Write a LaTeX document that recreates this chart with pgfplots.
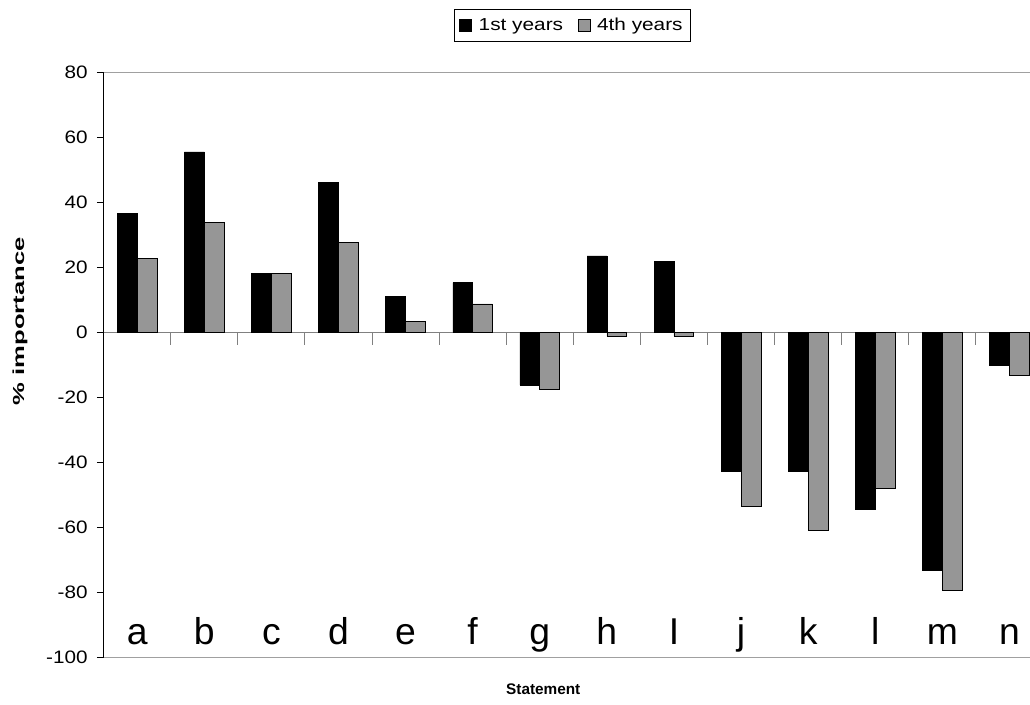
\documentclass[border=0pt]{standalone}
\usepackage{pgfplots}
\pgfplotsset{compat=1.18}
\usepackage{fontspec}
\setmainfont{Liberation Sans}
\newfontfamily\widefont[FakeStretch=1.15]{Liberation Sans}
\newfontfamily\legfont[FakeStretch=1.2]{Liberation Sans}
\newfontfamily\widebold[FakeStretch=1.6]{Liberation Sans Bold}
\definecolor{bargray}{HTML}{969696}
\definecolor{framegray}{HTML}{A0A0A0}
\definecolor{zerogray}{HTML}{808080}
\begin{document}
\begin{tikzpicture}
\path[use as bounding box] (-77.7pt,-34.9pt) rectangle (694.8pt,493.1pt);
\begin{axis}[
  at={(0pt,0pt)}, anchor=south west,
  scale only axis, width=704.55pt, height=438.6pt,
  xmin=-0.5, xmax=13.5, ymin=-100, ymax=80,
  axis x line*=bottom, axis y line*=left,
  x axis line style={draw=framegray, line width=0.75pt, -},
  y axis line style={draw=black, line width=0.75pt, -},
  xtick={0,...,13},
  xticklabels={a,b,c,d,e,f,g,h,I,j,k,l,m,n},
  major x tick style={draw=none},
  xticklabel style={font=\fontsize{28}{30}\selectfont, anchor=base, yshift=14.4pt},
  ytick={-100,-80,...,80},
  tick align=outside,
  major tick length=5pt,
  y tick style={black, line width=0.75pt},
  /pgf/number format/assume math mode=true,
  yticklabel style={font=\widefont\fontsize{13.5}{15}\selectfont, xshift=-3.5pt},
  ybar=0pt, bar width=14.85pt,
  ylabel={\% importance}, xlabel={Statement},
  ylabel style={font=\widebold\fontsize{12}{14}\selectfont, at={(axis description cs:-0.089,0.575)}, anchor=center},
  xlabel style={font=\bfseries\fontsize{11.5}{13}\selectfont, at={(axis description cs:0.468,-0.054)}, anchor=center},
  legend columns=2,
  legend style={at={(0.499,1.109)}, anchor=north, draw=black, line width=0.75pt,
    font=\legfont\fontsize{13}{15}\selectfont, inner xsep=4pt, inner ysep=4.5pt,
    /tikz/every even column/.append style={column sep=9pt}},
  legend image code/.code={\draw[#1, line width=0.5pt] (0pt,-4.5pt) rectangle (9pt,4.5pt); \path (12pt,0pt);},
]
\draw[framegray, line width=0.75pt] (rel axis cs:0,1) -- (rel axis cs:1,1);
\draw[zerogray, line width=0.75pt] (axis cs:-0.5,0) -- (axis cs:13.5,0);
\pgfplotsinvokeforeach{0.5,1.5,2.5,3.5,4.5,5.5,6.5,7.5,8.5,9.5,10.5,11.5,12.5}{
  \draw[zerogray, line width=0.75pt] (axis cs:#1,0) -- ++(0pt,-9pt);
}
\addplot[fill=black, draw=black, line width=0.5pt] coordinates {
 (0,36.8) (1,55.6) (2,18.2) (3,46.1) (4,11.1) (5,15.4) (6,-16.2)
 (7,23.6) (8,21.8) (9,-42.8) (10,-42.8) (11,-54.5) (12,-73.1) (13,-10.2)};
\addplot[fill=bargray, draw=black, line width=0.5pt] coordinates {
 (0,22.7) (1,34.0) (2,18.2) (3,27.8) (4,3.5) (5,8.8) (6,-17.6)
 (7,-1.2) (8,-1.1) (9,-53.4) (10,-60.8) (11,-48.0) (12,-79.3) (13,-13.1)};
\legend{1st years, 4th years}
\end{axis}
\end{tikzpicture}
\end{document}
